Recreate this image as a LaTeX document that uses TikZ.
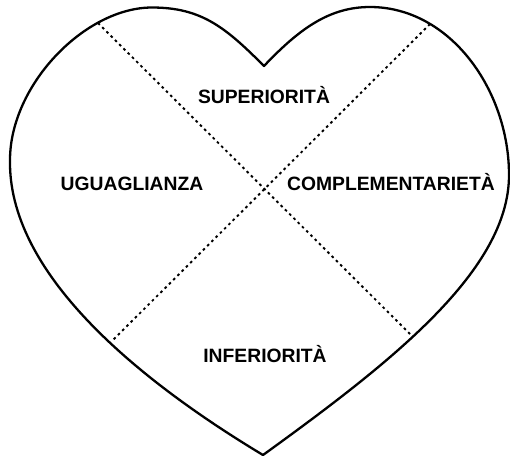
\documentclass[tikz,border=0pt]{standalone}
\usepackage{fontspec}
\setmainfont{Liberation Sans}
\begin{document}
\begin{tikzpicture}[x=1pt,y=-1pt,
  heartline/.style={line width=2.3pt, line join=round},
  divider/.style={line width=1.9pt, dash pattern=on 2.6pt off 3.4pt},
  lbl/.style={anchor=base, inner sep=0pt, font=\fontsize{19.3}{23}\selectfont\bfseries}]
\useasboundingbox (0,0) rectangle (510,456);
% heart
\coordinate (notch) at (264,66);
\coordinate (ltop) at (152,7.5);
\coordinate (lmost) at (10,160);
\coordinate (tip) at (263,455);
\coordinate (rtop) at (370,7);
\coordinate (rmost) at (509,175);
\draw[heartline] (notch) .. controls (226,28) and (202,7.5) .. (ltop)
  .. controls (85,7.5) and (10,85) .. (lmost)
  .. controls (8,270) and (130,375) .. (tip)
  .. controls (393,361) and (509,270) .. (rmost)
  .. controls (509,90) and (450,7) .. (rtop)
  .. controls (330,7) and (300,28) .. (notch) -- cycle;
% dividers
\coordinate (d1a) at (98,23);
\coordinate (d1b) at (413,337);
\coordinate (d2a) at (430,24);
\coordinate (d2b) at (113,340);
\draw[divider] (d1a) -- (d1b);
\draw[divider] (d2a) -- (d2b);
% labels
\node[lbl] (sup) at (264,103.5) {SUPERIORITÀ};
\node[lbl] (ugu) at (132,190) {UGUAGLIANZA};
\node[lbl] (com) at (391,190) {COMPLEMENTARIETÀ};
\node[lbl] (inf) at (265,362) {INFERIORITÀ};
\end{tikzpicture}
\end{document}
